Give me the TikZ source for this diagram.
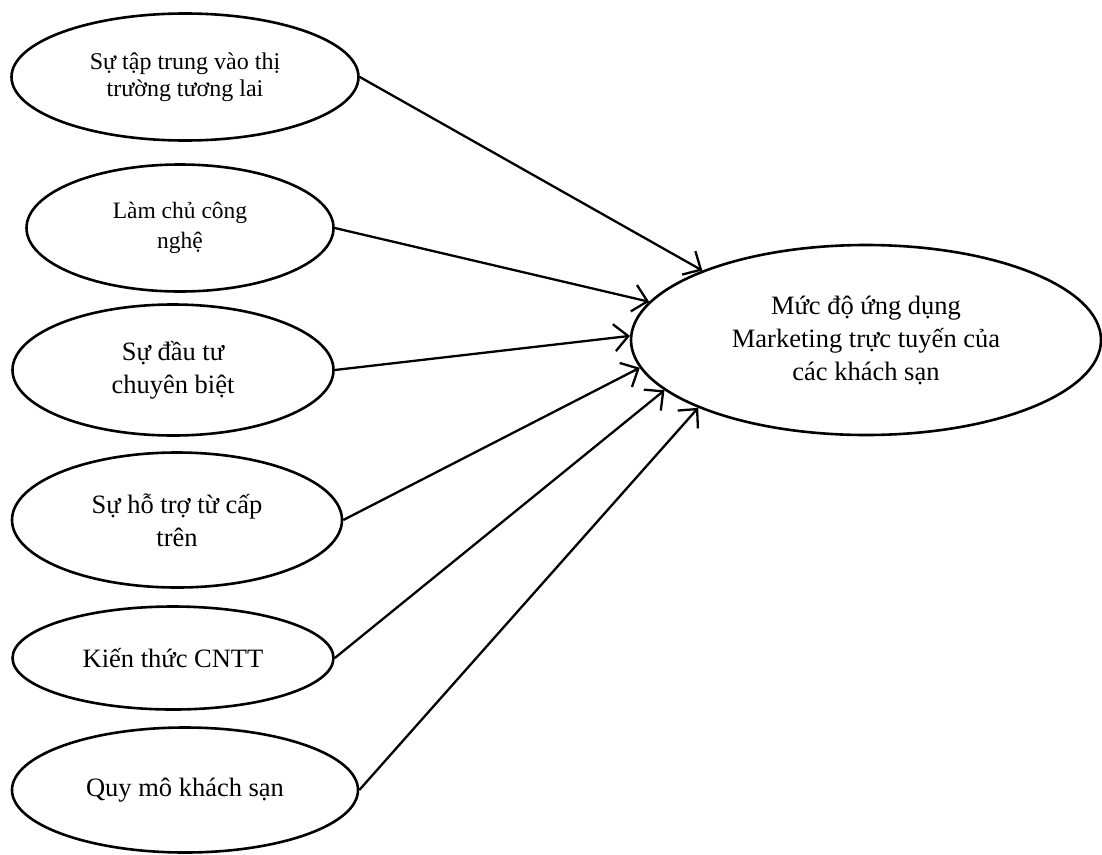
\documentclass[tikz,border=0pt]{standalone}
\usepackage{fontspec}
\setmainfont{Liberation Serif}
\usetikzlibrary{shapes.geometric,arrows.meta}

\tikzset{
    factor/.style={ellipse, draw, line width=2.6pt, inner sep=0pt, align=center, font=\fontsize{26.5}{33}\selectfont},
    link/.style={-{Straight Barb[length=14pt,width=27pt]}, line width=2.3pt}
}

\begin{document}
\begin{tikzpicture}[x=1pt,y=-1pt]
            \useasboundingbox (0,0) rectangle (1102,854);

            \node [factor, minimum width=347pt, minimum height=127pt, font=\fontsize{24}{27}\selectfont] (thitruong) at (185,77) {Sự tập trung vào thị\\trường tương lai};
            \node [factor, minimum width=307pt, minimum height=127pt, font=\fontsize{23.5}{30}\selectfont] (congnghe) at (180,228) {Làm chủ công\\nghệ};
            \node [factor, minimum width=321pt, minimum height=131pt] (dautu) at (173,370) {Sự đầu tư\\chuyên biệt};
            \node [factor, minimum width=330pt, minimum height=135pt] (hotro) at (177,520) {Sự hỗ trợ từ cấp\\trên};
            \node [factor, minimum width=321pt, minimum height=103pt] (kienthuc) at (173,658) {Kiến thức CNTT};
            \node [factor, minimum width=346pt, minimum height=125pt] (quymo) at (185,790) {Quy mô khách sạn};
            \node [factor, minimum width=470pt, minimum height=190pt] (ungdung) at (866,340) {Mức độ ứng dụng\\Marketing trực tuyến của\\các khách sạn};

            \draw [link] (thitruong.east) -- (ungdung.157.7);
            \draw [link] (congnghe.east) -- (ungdung.170.4);
            \draw [link] (dautu.east) -- (ungdung.179.5);
            \draw [link] (hotro.east) -- (ungdung.187.2);
            \draw [link] (kienthuc.east) -- (ungdung.194.6);
            \draw [link] (quymo.east) -- (ungdung.202);
\end{tikzpicture}
\end{document}
